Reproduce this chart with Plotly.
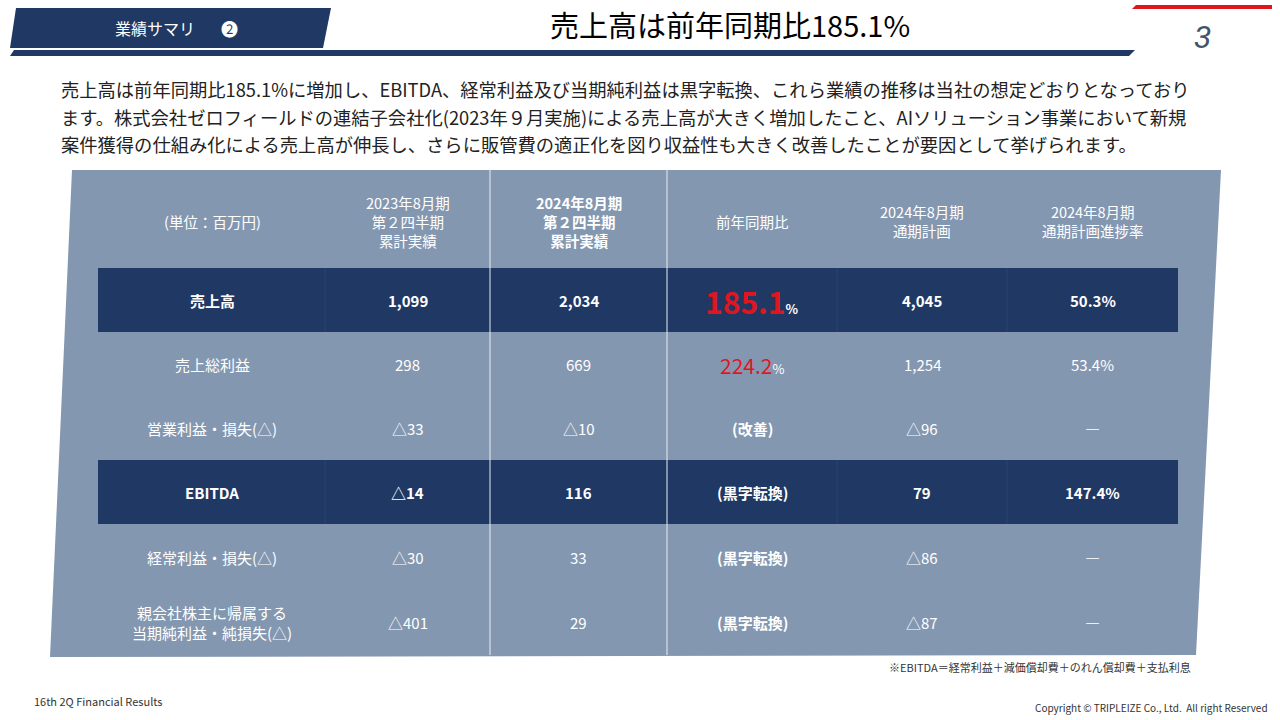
import plotly.graph_objects as go

FONT = "Noto Sans CJK JP"
NAVY = "#1f3864"
TABLE_BG = "#8497b0"

# ---- data ----
headers = ["(単位：百万円)", "2023年8月期<br>第２四半期<br>累計実績", "<b>2024年8月期<br>第２四半期<br>累計実績</b>",
           "前年同期比", "2024年8月期<br>通期計画", "2024年8月期<br>通期計画進捗率"]
row_labels = ["売上高", "売上総利益", "営業利益・損失(△)", "EBITDA", "経常利益・損失(△)",
              "親会社株主に帰属する<br>当期純利益・純損失(△)"]
fy23_q2 = ["1,099", "298", "△33", "△14", "△30", "△401"]
fy24_q2 = ["2,034", "669", "△10", "116", "33", "29"]
yoy = ["185.1", "224.2", "(改善)", "(黒字転換)", "(黒字転換)", "(黒字転換)"]
fy24_plan = ["4,045", "1,254", "△96", "79", "△86", "△87"]
progress = ["50.3%", "53.4%", "―", "147.4%", "―", "―"]
highlight_rows = [0, 3]
body_lines = [
    "売上高は前年同期比185.1%に増加し、EBITDA、経常利益及び当期純利益は黒字転換、これら業績の推移は当社の想定どおりとなっており",
    "ます。株式会社ゼロフィールドの連結子会社化(2023年９月実施)による売上高が大きく増加したこと、AIソリューション事業において新規",
    "案件獲得の仕組み化による売上高が伸長し、さらに販管費の適正化を図り収益性も大きく改善したことが要因として挙げられます。",
]

col_edges = [98, 325, 490, 667, 837, 1007, 1178]
row_edges = [268, 332, 396, 460, 524, 590, 655]

fig = go.Figure()
shapes = []
ann = []

# title band
shapes.append(dict(type="path", path="M 16 8 L 331 8 L 323 48 L 10 48 Z", fillcolor=NAVY, line_width=0))
shapes.append(dict(type="path", path="M 14 50 L 1135 50 L 1129 56 L 10 56 Z", fillcolor=NAVY, line_width=0))
shapes.append(dict(type="path", path="M 1136 5 L 1272 5 L 1272 9 L 1132 9 Z", fillcolor="#e0161f", line_width=0))
ann.append(dict(x=155, y=28, text="業績サマリ", font=dict(size=16, color="white")))
ann.append(dict(x=229, y=28, text="➋", font=dict(size=17, color="white")))
ann.append(dict(x=730, y=24, text="売上高は前年同期比185.1%", font=dict(size=29, color="black")))
ann.append(dict(x=1202, y=37, text="<i>3</i>", font=dict(size=32, color="#44546a", family="Roboto")))

for j, line in enumerate(body_lines):
    ann.append(dict(x=59, y=89 + 27.5 * j, text=line, xanchor="left", align="left",
                    font=dict(size=18.3, color="#222")))

# table background
shapes.append(dict(type="path", path="M 72 170 L 1221 170 L 1196 655 L 50 657 Z", fillcolor=TABLE_BG, line_width=0))
for i in highlight_rows:
    shapes.append(dict(type="rect", x0=col_edges[0], x1=col_edges[-1], y0=row_edges[i], y1=row_edges[i + 1],
                       fillcolor=NAVY, line_width=0))
for x in [325, 837, 1007]:
    for i in highlight_rows:
        shapes.append(dict(type="line", x0=x, x1=x, y0=row_edges[i], y1=row_edges[i + 1],
                           line=dict(color="#2b4573", width=1)))
for x in [490, 667]:
    shapes.append(dict(type="line", x0=x, x1=x, y0=170, y1=655, line=dict(color="#e8edf3", width=1)))

cx = [(col_edges[k] + col_edges[k + 1]) / 2 for k in range(6)]
cx[0] = 212
for k, h in enumerate(headers):
    ann.append(dict(x=cx[k], y=221, text=h, font=dict(size=14.5, color="white")))

for i in range(len(row_labels)):
    y = (row_edges[i] + row_edges[i + 1]) / 2
    bold = i in highlight_rows
    def t(s):
        return f"<b>{s}</b>" if bold else s
    vals = [row_labels[i], fy23_q2[i], fy24_q2[i], None, fy24_plan[i], progress[i]]
    for k, v in enumerate(vals):
        if v is None:
            continue
        ann.append(dict(x=cx[k], y=y, text=t(v), font=dict(size=15, color="white")))
    v = yoy[i]
    if v[0].isdigit():
        size = 30 if i == 0 else 21
        txt = (f"<b>{v}</b>" if i == 0 else v) + f"<span style='font-size:13px;color:white'>{t('%')}</span>"
        ann.append(dict(x=cx[3], y=y + 1, text=txt, font=dict(size=size, color="#e0161f")))
    else:
        ann.append(dict(x=cx[3], y=y, text=f"<b>{v}</b>", font=dict(size=15, color="white")))

ann.append(dict(x=1193, y=667, xanchor="right", text="※EBITDA＝経常利益＋減価償却費＋のれん償却費＋支払利息",
                font=dict(size=11, color="#333")))
ann.append(dict(x=32, y=701, xanchor="left", text="16th 2Q Financial Results", font=dict(size=11, color="#333")))
ann.append(dict(x=1270, y=707, xanchor="right", text="Copyright © TRIPLEIZE Co., Ltd.  All right Reserved",
                font=dict(size=10, color="#333")))

for a in ann:
    a.update(xref="x", yref="y", showarrow=False)
    a.setdefault("xanchor", "center")
    a["font"].setdefault("family", FONT)

fig.update_layout(
    width=1280, height=720, margin=dict(l=0, r=0, t=0, b=0),
    paper_bgcolor="white", plot_bgcolor="white", showlegend=False,
    shapes=shapes, annotations=ann,
    xaxis=dict(range=[0, 1280], visible=False, fixedrange=True),
    yaxis=dict(range=[720, 0], visible=False, fixedrange=True),
    font=dict(family=FONT),
)
fig.write_html("out.html", config={"displayModeBar": False})

# drop the default page margin so the figure sits at the window's corner
with open("out.html", encoding="utf-8") as f:
    html = f.read()
html = html.replace("<body>", "<body style='margin:0;overflow:hidden'>", 1)
with open("out.html", "w", encoding="utf-8") as f:
    f.write(html)
